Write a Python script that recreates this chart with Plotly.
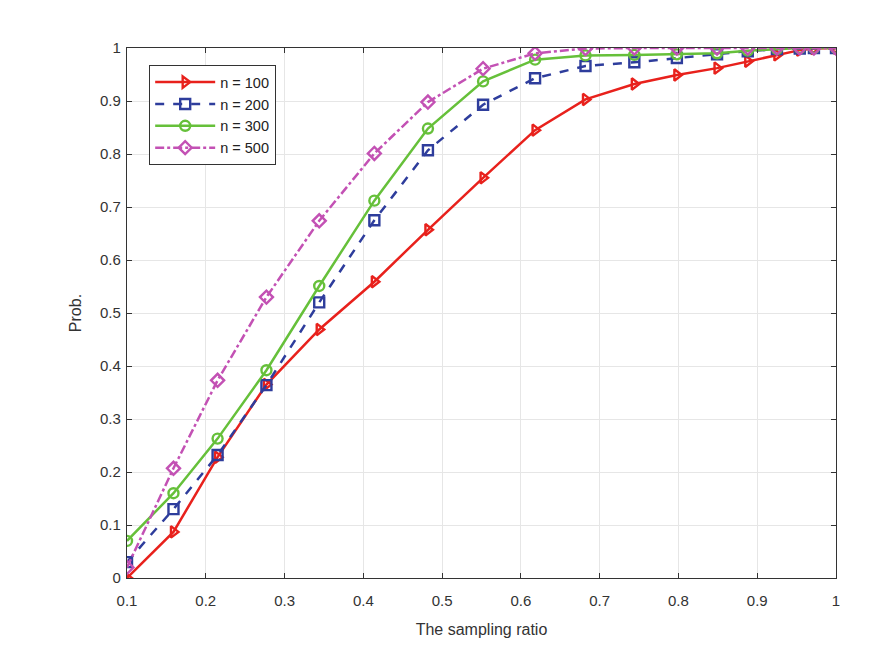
import plotly.graph_objects as go

# sampling ratios (x positions of the markers)
ratio = [0.1, 0.159, 0.215, 0.277, 0.344, 0.414, 0.482, 0.552, 0.618,
         0.682, 0.744, 0.798, 0.849, 0.888, 0.925, 0.954, 0.972, 1.0]

prob_100 = [0.0, 0.087, 0.228, 0.365, 0.469, 0.559, 0.657, 0.755, 0.845,
            0.903, 0.932, 0.949, 0.962, 0.975, 0.987, 0.996, 0.999, 1.0]
prob_200 = [0.03, 0.13, 0.232, 0.364, 0.52, 0.675, 0.807, 0.893, 0.943,
            0.966, 0.973, 0.981, 0.988, 0.994, 0.998, 0.999, 1.0, 1.0]
prob_300 = [0.07, 0.16, 0.263, 0.392, 0.551, 0.712, 0.848, 0.937, 0.978,
            0.986, 0.987, 0.988, 0.99, 0.995, 0.998, 1.0, 1.0, 1.0]
prob_500 = [0.02, 0.207, 0.373, 0.53, 0.674, 0.801, 0.898, 0.961, 0.99,
            0.999, 1.0, 1.0, 1.0, 1.0, 1.0, 1.0, 1.0, 1.0]

series = [
    ("n = 100", prob_100, "#e8211c", "solid", "triangle-right-open"),
    ("n = 200", prob_200, "#2e3d9c", "dash", "square-open"),
    ("n = 300", prob_300, "#66c03a", "solid", "circle-open"),
    ("n = 500", prob_500, "#c351b4", "dashdot", "diamond-open"),
]

fig = go.Figure()
for name, vals, col, dash, sym in series:
    fig.add_trace(go.Scatter(
        x=ratio, y=vals, name=name, mode="lines+markers",
        line=dict(color=col, width=2.5, dash=dash),
        marker=dict(symbol=sym, size=10, color=col, line=dict(width=2.4, color=col)),
    ))

axis_font = dict(family="Liberation Sans, Arial, sans-serif", size=15, color="#333333")

# page body has an 8px margin, so margins are shifted by 8px
fig.update_layout(
    width=894, height=651,
    margin=dict(l=119, r=66, t=40, b=81),
    plot_bgcolor="white", paper_bgcolor="white",
    font=axis_font,
    legend=dict(
        x=0.031, y=0.968, xanchor="left", yanchor="top",
        bgcolor="white", bordercolor="#333333", borderwidth=1.2,
        font=dict(family="Liberation Sans, Arial, sans-serif", size=14.5, color="#222222"),
        tracegroupgap=0, itemwidth=60,
    ),
    showlegend=True,
)
fig.update_xaxes(
    range=[0.1, 1.0], tickvals=[0.1, 0.2, 0.3, 0.4, 0.5, 0.6, 0.7, 0.8, 0.9, 1.0],
    ticktext=["0.1", "0.2", "0.3", "0.4", "0.5", "0.6", "0.7", "0.8", "0.9", "1"],
    showgrid=True, gridcolor="#e6e6e6", gridwidth=1,
    showline=True, linecolor="#333333", linewidth=1.2, mirror="ticks",
    ticks="inside", ticklen=5, tickcolor="#333333", zeroline=False,
    ticklabelstandoff=9,
    title=dict(text="The sampling ratio", font=dict(size=16, color="#333333"), standoff=15),
)
fig.update_yaxes(
    range=[0, 1.0], tickvals=[0, 0.1, 0.2, 0.3, 0.4, 0.5, 0.6, 0.7, 0.8, 0.9, 1.0],
    ticktext=["0", "0.1", "0.2", "0.3", "0.4", "0.5", "0.6", "0.7", "0.8", "0.9", "1"],
    showgrid=True, gridcolor="#e6e6e6", gridwidth=1,
    showline=True, linecolor="#333333", linewidth=1.2, mirror="ticks",
    ticks="inside", ticklen=5, tickcolor="#333333", zeroline=False,
    ticklabelstandoff=2,
    title=dict(text="Prob.", font=dict(size=16, color="#333333"), standoff=14),
)

fig.write_html("out.html")
